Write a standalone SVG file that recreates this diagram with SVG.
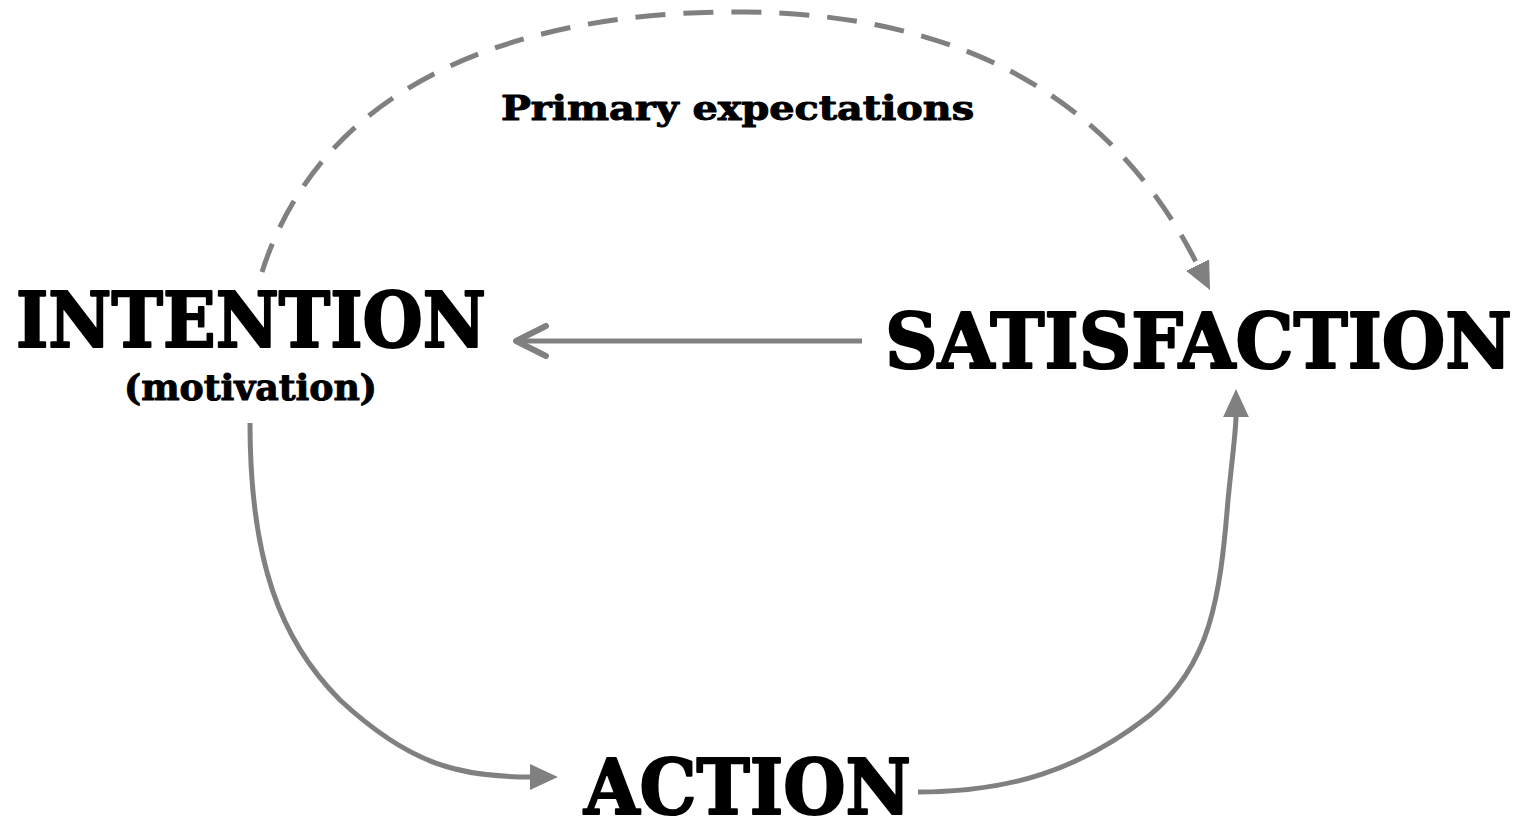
<svg xmlns="http://www.w3.org/2000/svg" width="1526" height="820" viewBox="0 0 1526 820">
<style>
.lbl{font-family:"DejaVu Serif","Liberation Serif",serif;font-weight:bold;fill:#000;stroke:#000;stroke-linejoin:round}
.big{stroke-width:2.2}
.small{stroke-width:1}
.con{fill:none;stroke:#808080;stroke-width:5}
</style>
<defs>
<marker id="tri" markerUnits="userSpaceOnUse" markerWidth="28" markerHeight="28" viewBox="0 0 26 24" refX="1" refY="12" orient="auto">
<path d="M0,0 L26,12 L0,24 z" fill="#808080"/>
</marker>
<marker id="chev" markerUnits="userSpaceOnUse" markerWidth="44" markerHeight="44" viewBox="-40 -22 44 44" refX="0" refY="0" orient="auto">
<path d="M-30,-15 L0,0 L-30,15" fill="none" stroke="#808080" stroke-width="6" stroke-linecap="round" stroke-linejoin="round"/>
</marker>
</defs>
<rect width="1526" height="820" fill="#fff"/>
<g id="connectors">
<path class="con" d="M 262 272 C 330 60, 560 10, 745 12 C 950 14, 1110 90, 1198 266" stroke-dasharray="30 18" marker-end="url(#tri)"/>
<path class="con" d="M 862 341 L 516 341" marker-end="url(#chev)"/>
<path class="con" d="M 250 423 C 250 560, 280 640, 340 700 C 410 765, 460 777, 531 777" marker-end="url(#tri)"/>
<path class="con" d="M 918 792 C 1010 792, 1080 770, 1150 715 C 1210 665, 1220 600, 1228 500 C 1233 450, 1236 430, 1236 416" marker-end="url(#tri)"/>
<text class="lbl small" x="501" y="120" font-size="33" textLength="473" lengthAdjust="spacingAndGlyphs">Primary expectations</text>
</g>
<g id="intention">
<text class="lbl big" x="16" y="347" font-size="77" textLength="470" lengthAdjust="spacingAndGlyphs">INTENTION</text>
<text class="lbl small" x="124" y="400" font-size="35" textLength="253" lengthAdjust="spacingAndGlyphs">(motivation)</text>
</g>
<g id="satisfaction">
<text class="lbl big" x="885" y="368" font-size="77" textLength="627" lengthAdjust="spacingAndGlyphs">SATISFACTION</text>
</g>
<g id="action">
<text class="lbl big" x="584" y="814" font-size="77" textLength="327" lengthAdjust="spacingAndGlyphs">ACTION</text>
</g>
</svg>
